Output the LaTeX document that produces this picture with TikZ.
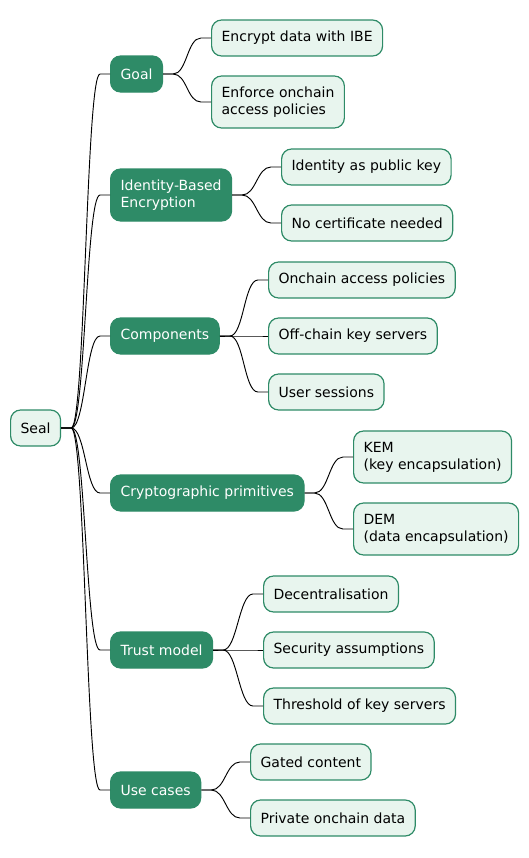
\documentclass[tikz,border=0pt]{standalone}
\usepackage{fontspec}
\setmainfont{DejaVu Sans}
\definecolor{sealdark}{RGB}{46,139,103}
\definecolor{seallight}{RGB}{232,245,238}
\tikzset{
  mapbox/.style={rounded corners=7.5pt, line width=0.9pt, anchor=west, align=left,
    inner xsep=7.5pt, inner ysep=3pt, minimum height=27pt,
    font=\fontsize{10.5}{12.6}\selectfont},
  leafbox/.style={mapbox, draw=sealdark, fill=seallight, text=black},
  topicbox/.style={mapbox, draw=sealdark, fill=sealdark, text=white},
  twolines/.style={minimum height=39pt},
  link/.style={draw=black, line width=0.7pt}
}
\begin{document}
\begin{tikzpicture}[x=0.75pt,y=0.75pt,yscale=-1,xscale=1]
\useasboundingbox (0,0) rectangle (529,858);

% Root
\node[leafbox] (seal) at (10,428) {Seal};

% Main topics
\node[topicbox] (goal) at (110,74) {Goal};
\node[topicbox, twolines] (ibe) at (110,195) {Identity-Based\\Encryption};
\node[topicbox] (comp) at (110,336) {Components};
\node[topicbox] (prim) at (110,493) {Cryptographic primitives};
\node[topicbox] (trust) at (110,650) {Trust model};
\node[topicbox] (uses) at (110,790) {Use cases};

% Leaves
\node[leafbox] (encrypt) at (211,38) {Encrypt data with IBE};
\node[leafbox, twolines] (enforce) at (211,102) {Enforce onchain\\access policies};
\node[leafbox] (pubkey) at (281,167) {Identity as public key};
\node[leafbox] (nocert) at (281,223) {No certificate needed};
\node[leafbox] (policies) at (268,280) {Onchain access policies};
\node[leafbox] (servers) at (268,336) {Off-chain key servers};
\node[leafbox] (sessions) at (268,392) {User sessions};
\node[leafbox, twolines] (kem) at (353,457) {KEM\\(key encapsulation)};
\node[leafbox, twolines] (dem) at (353,529) {DEM\\(data encapsulation)};
\node[leafbox] (decent) at (263,594) {Decentralisation};
\node[leafbox] (security) at (263,650) {Security assumptions};
\node[leafbox] (threshold) at (263,706) {Threshold of key servers};
\node[leafbox] (gated) at (250,762) {Gated content};
\node[leafbox] (private) at (250,818) {Private onchain data};

% Branches
\foreach \p/\c in {seal/goal, seal/ibe, seal/comp, seal/prim, seal/trust, seal/uses,
    goal/encrypt, goal/enforce, ibe/pubkey, ibe/nocert,
    comp/policies, comp/servers, comp/sessions, prim/kem, prim/dem,
    trust/decent, trust/security, trust/threshold, uses/gated, uses/private}
  \draw[link] (\p.east) -- ([xshift=7.5pt]\p.east)
    .. controls ([xshift=18pt]\p.east) and ([xshift=-18pt]\c.west) .. ([xshift=-7.5pt]\c.west)
    -- (\c.west);

\end{tikzpicture}
\end{document}
